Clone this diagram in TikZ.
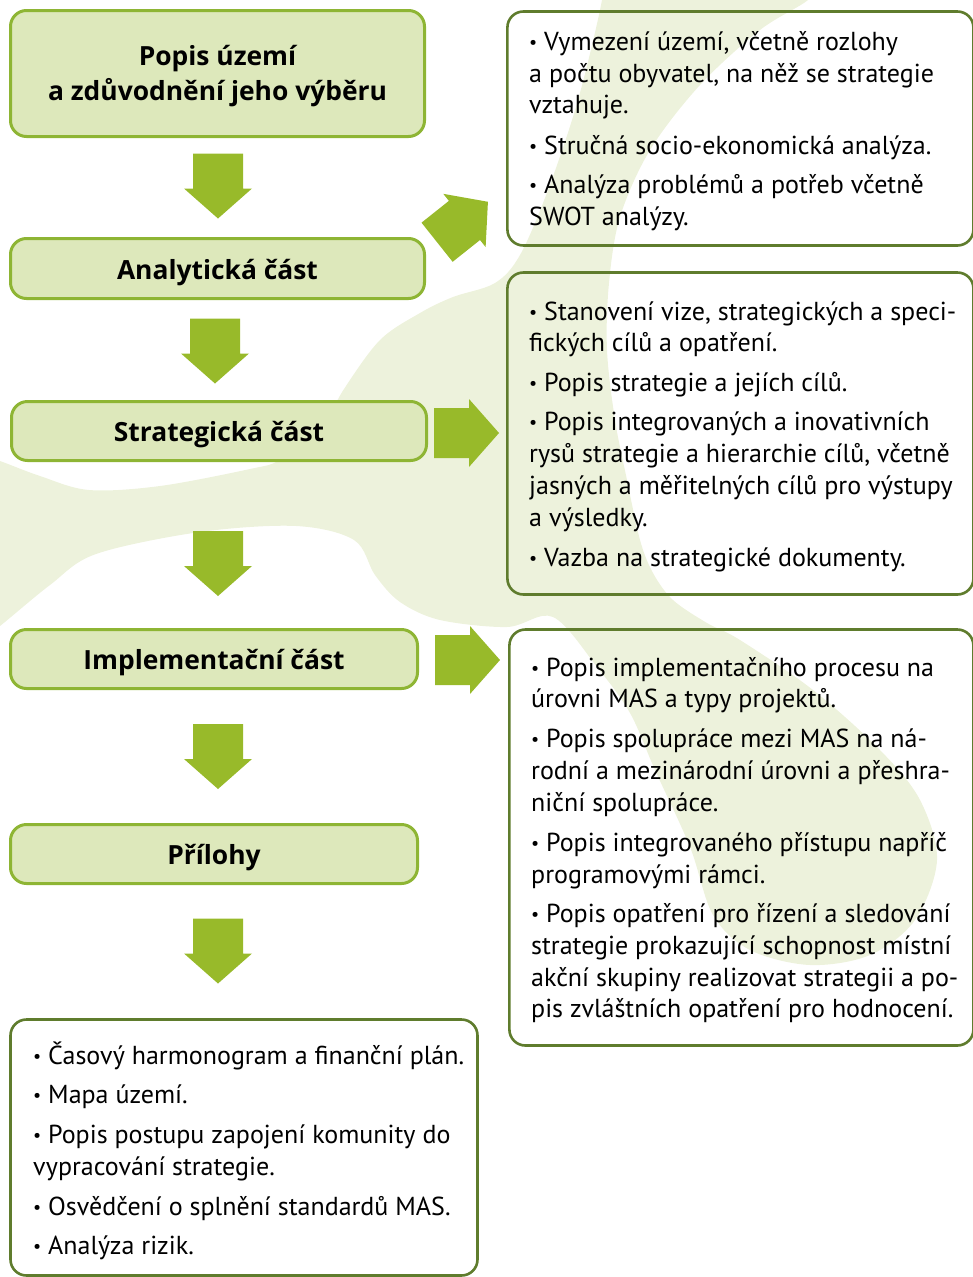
\documentclass[tikz,border=0pt]{standalone}
\usepackage{fontspec}
\setmainfont{PT Sans}
\newfontfamily\headfont{Open Sans}
\usetikzlibrary{calc}
\definecolor{pale}{RGB}{237,242,220}
\definecolor{boxfill}{RGB}{221,232,187}
\definecolor{boxline}{RGB}{142,181,52}
\definecolor{arrowgreen}{RGB}{152,186,42}
\definecolor{darkline}{RGB}{95,124,45}
\newcommand\listline[3]{\node[listtext] (#1) at (#2) {#3};}
\newcommand\bul{\makebox[15pt][l]{\fontsize{18}{18}\selectfont\raisebox{1.6pt}{•}}}
\begin{document}
\begin{tikzpicture}[x=1pt,y=-1pt]
\tikzset{
  headbox/.style={draw=boxline, fill=boxfill, line width=3pt, rounded corners=16pt, inner sep=0pt,
    font=\headfont\fontsize{26.4}{30}\selectfont\bfseries, text height=21pt, text depth=0pt},
  listbox/.style={draw=darkline, line width=2.6pt, rounded corners=16pt, inner sep=0pt},
  listtext/.style={anchor=base west, inner sep=0pt, font=\fontsize{26}{30}\selectfont},
  headtext/.style={anchor=base, inner sep=0pt, font=\headfont\fontsize{26.4}{30}\selectfont\bfseries},
  pics/blockarrow/.style={code={
    \fill[arrowgreen] (-32.5,-25) -- (2.5,-25) -- (2.5,-34) -- (32.5,0) -- (2.5,34) -- (2.5,25) -- (-32.5,25) -- cycle;}}
}
\useasboundingbox (0,0) rectangle (973,1277);
% background leaf
\begin{scope}
\clip (0,0) rectangle (973,1277);
\fill[pale] plot[smooth cycle, tension=0.55] coordinates {
  (600,-20) (602,0) (578,100) (548,190) (520,255) (495,283) (453,297) (420,313) (380,340) (344,389)
  (320,430) (280,460) (250,469) (160,486) (89,490) (40,476) (0,461) (-20,455)
  (-20,640) (0,626) (50,585) (96,554) (200,532) (296,526) (354,540) (375,575) (400,602) (440,620)
  (507,627) (553,617) (597,667) (630,713) (655,770) (690,847) (713,915) (750,950) (810,965)
  (870,955) (915,920) (937,860) (920,800) (880,750) (813,690) (740,640) (707,623) (673,600)
  (653,573) (640,540) (627,480) (615,420) (607,350) (609,283) (620,217) (650,150) (700,85)
  (760,30) (808,0) (820,-20)};
\end{scope}
% left column
\node[headbox, minimum width=414pt, minimum height=126pt] (A) at (217.5,73.5) {};
\node[headtext] (A1) at (217.5,65) {Popis území};
\node[headtext] (A2) at (217.5,100) {a zdůvodnění jeho výběru};
\node[headbox, minimum width=414pt, minimum height=60pt] (B) at (217.5,268.5) {Analytická část};
\node[headbox, minimum width=415pt, minimum height=59pt] (C) at (219,431) {Strategická část};
\node[headbox, minimum width=407pt, minimum height=59pt] (D) at (214,659) {Implementační část};
\node[headbox, minimum width=407pt, minimum height=59pt] (E) at (214,854) {Přílohy};
\node[listbox, minimum width=467pt, minimum height=256pt] (F) at (244,1147.5) {};
% right column
\node[listbox, minimum width=466pt, minimum height=234pt] (R1) at (740.4,128.5) {};
\node[listbox, minimum width=466pt, minimum height=322pt] (R2) at (740.4,433.5) {};
\node[listbox, minimum width=464pt, minimum height=416pt] (R3) at (741.4,837.5) {};
% arrows
\pic[rotate=-90] at (218,186) {blockarrow};
\pic[rotate=-90] at (215,351) {blockarrow};
\pic[rotate=-90] at (218,563.5) {blockarrow};
\pic[rotate=-90] at (218,756.5) {blockarrow};
\pic[rotate=-90] at (218,951) {blockarrow};
\pic[rotate=38.5] at (462.5,222) {blockarrow};
\pic at (466.5,433) {blockarrow};
\pic at (467.5,660) {blockarrow};
% texts R1
\listline{r1a}{529,50.5}{\bul Vymezení území, včetně rozlohy}
\listline{r1b}{529,82}{a počtu obyvatel, na něž se strategie}
\listline{r1c}{529,113}{vztahuje.}
\listline{r1d}{529,154}{\bul Stručná socio-ekonomická analýza.}
\listline{r1e}{529,193}{\bul Analýza problémů a potřeb včetně}
\listline{r1f}{529,225}{SWOT analýzy.}
% texts R2
\listline{r2a}{529,320}{\bul Stanovení vize, strategických a speci-}
\listline{r2b}{529,351}{fických cílů a opatření.}
\listline{r2c}{529,391}{\bul Popis strategie a jejích cílů.}
\listline{r2d}{529,430.5}{\bul Popis integrovaných a inovativních}
\listline{r2e}{529,462.5}{rysů strategie a hierarchie cílů, včetně}
\listline{r2f}{529,494.5}{jasných a měřitelných cílů pro výstupy}
\listline{r2g}{529,526.5}{a výsledky.}
\listline{r2h}{529,566}{\bul Vazba na strategické dokumenty.}
% texts R3
\listline{r3a}{531,676}{\bul Popis implementačního procesu na}
\listline{r3b}{531,707.5}{úrovni MAS a typy projektů.}
\listline{r3c}{531,747}{\bul Popis spolupráce mezi MAS na ná-}
\listline{r3d}{531,779}{rodní a mezinárodní úrovni a přeshra-}
\listline{r3e}{531,811}{niční spolupráce.}
\listline{r3f}{531,851}{\bul Popis integrovaného přístupu napříč}
\listline{r3g}{531,883}{programovými rámci.}
\listline{r3h}{531,922.5}{\bul Popis opatření pro řízení a sledování}
\listline{r3i}{531,954}{strategie prokazující schopnost místní}
\listline{r3j}{531,986}{akční skupiny realizovat strategii a po-}
\listline{r3k}{531,1017.5}{pis zvláštních opatření pro hodnocení.}
% texts F
\listline{fa}{33,1064}{\bul Časový harmonogram a finanční plán.}
\listline{fb}{33,1103}{\bul Mapa území.}
\listline{fc}{33,1143}{\bul Popis postupu zapojení komunity do}
\listline{fd}{33,1175}{vypracování strategie.}
\listline{fe}{33,1215}{\bul Osvědčení o splnění standardů MAS.}
\listline{ff}{33,1254}{\bul Analýza rizik.}
\end{tikzpicture}
\end{document}
